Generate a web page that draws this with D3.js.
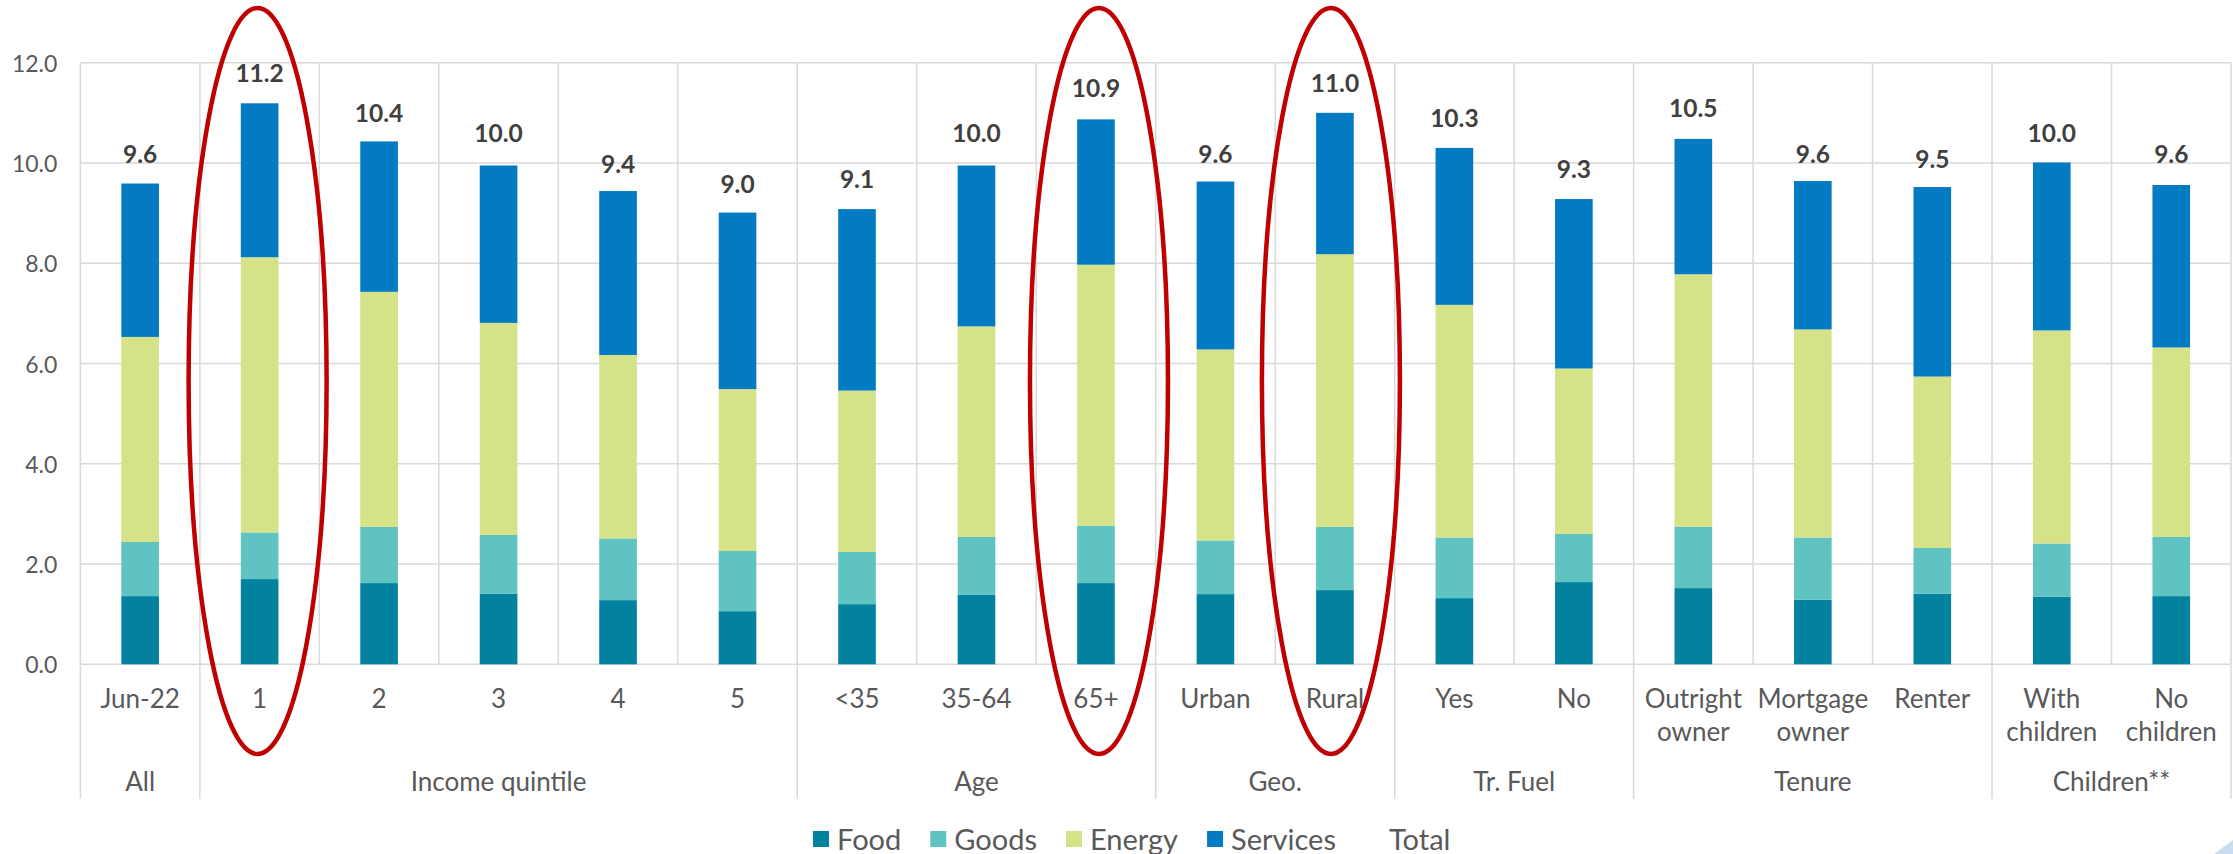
<!DOCTYPE html>
<html>
<head>
<meta charset="utf-8">
<script src="https://cdn.jsdelivr.net/npm/d3@7"></script>
<style>
  html, body { margin: 0; padding: 0; background: #ffffff; }
  svg { display: block; font-family: Lato, "Open Sans", sans-serif; }
</style>
</head>
<body>
<svg id="chart" width="2233" height="854"></svg>
<script>
// ---------------- data ----------------
const categories = ["Jun-22","1","2","3","4","5","<35","35-64","65+","Urban","Rural","Yes","No","Outright\nowner","Mortgage\nowner","Renter","With\nchildren","No\nchildren"];
const groupNames = ["All","Income quintile","Age","Geo.","Tr. Fuel","Tenure","Children**"];
const groupSizes = [1,5,3,2,2,3,2];
const seriesNames = ["Food","Goods","Energy","Services"];
const food     = [1.36,1.70,1.62,1.41,1.28,1.06,1.20,1.39,1.62,1.40,1.48,1.32,1.64,1.52,1.29,1.41,1.35,1.36];
const goods    = [1.08,0.93,1.12,1.17,1.23,1.20,1.04,1.15,1.14,1.07,1.26,1.21,0.96,1.22,1.24,0.91,1.06,1.18];
const energy   = [4.09,5.49,4.69,4.23,3.66,3.23,3.22,4.20,5.21,3.81,5.44,4.64,3.30,5.04,4.15,3.42,4.25,3.78];
const services = [3.06,3.07,3.00,3.14,3.27,3.52,3.62,3.21,2.90,3.35,2.82,3.13,3.38,2.70,2.96,3.78,3.35,3.24];
const total    = [9.6,11.2,10.4,10.0,9.4,9.0,9.1,10.0,10.9,9.6,11.0,10.3,9.3,10.5,9.6,9.5,10.0,9.6];
const yTicks   = [0,2,4,6,8,10,12];
const highlighted = ["1","65+","Rural"];
const highlightShift = [-2,3,-4];

// ---------------- style ----------------
const colors = { Food:"#02829F", Goods:"#5FC4C1", Energy:"#D5E288", Services:"#027BC2" };
const gridColor = "#D9D9D9";
const textColor = "#595959";

const svg = d3.select("#chart");
const pLeft = 80.4, pRight = 2231, pTop = 62.7, pBottom = 664.3;
const axisBottom = 799;

const x = d3.scaleBand().domain(categories).range([pLeft, pRight]).paddingInner(0).paddingOuter(0);
const y = d3.scaleLinear().domain([0, 12]).range([pBottom, pTop]);
const barW = x.bandwidth() * 0.315;

// table for stack
const table = categories.map((c, i) => ({ cat: c, Food: food[i], Goods: goods[i], Energy: energy[i], Services: services[i] }));
const stacked = d3.stack().keys(seriesNames)(table);

// horizontal gridlines
svg.append("g").selectAll("line").data(yTicks).join("line")
  .attr("x1", pLeft).attr("x2", pRight)
  .attr("y1", d => y(d)).attr("y2", d => y(d))
  .attr("stroke", gridColor).attr("stroke-width", 1.5);

// vertical gridlines (category boundaries) inside plot
const edges = categories.map(c => x(c)).concat([pRight]);
svg.append("g").selectAll("line").data(edges).join("line")
  .attr("x1", d => d).attr("x2", d => d)
  .attr("y1", pTop).attr("y2", pBottom)
  .attr("stroke", gridColor).attr("stroke-width", 1.5);

// group separators below axis
let acc = 0;
const groupBounds = [];
groupSizes.forEach((n, i) => { groupBounds.push({ name: groupNames[i], a: acc, b: acc + n }); acc += n; });
const endX = idx => idx === categories.length ? pRight : x(categories[idx]);
const sepX = [pLeft].concat(groupBounds.map(g => endX(g.b)));
svg.append("g").selectAll("line").data(sepX).join("line")
  .attr("x1", d => d).attr("x2", d => d)
  .attr("y1", pBottom).attr("y2", axisBottom)
  .attr("stroke", gridColor).attr("stroke-width", 1.5);

// bars
svg.append("g").selectAll("g").data(stacked).join("g")
  .attr("fill", d => colors[d.key])
  .selectAll("rect").data(d => d).join("rect")
  .attr("x", d => x(d.data.cat) + (x.bandwidth() - barW) / 2)
  .attr("width", barW)
  .attr("y", d => y(d[1]))
  .attr("height", d => y(d[0]) - y(d[1]));

// y axis labels
svg.append("g").selectAll("text").data(yTicks).join("text")
  .attr("x", pLeft - 23).attr("y", d => y(d))
  .attr("text-anchor", "end").attr("dominant-baseline", "central")
  .attr("fill", textColor).attr("font-size", 23)
  .text(d => d.toFixed(1));

// category labels
const catG = svg.append("g");
categories.forEach(c => {
  const lines = c.split("\n");
  const cx = x(c) + x.bandwidth() / 2;
  const t = catG.append("text")
    .attr("text-anchor", "middle")
    .attr("fill", textColor).attr("font-size", 26);
  lines.forEach((ln, k) => {
    t.append("tspan").attr("x", cx).attr("y", 708 + k * 33).text(ln);
  });
});

// group labels
svg.append("g").selectAll("text").data(groupBounds).join("text")
  .attr("x", d => (x(categories[d.a]) + endX(d.b)) / 2)
  .attr("y", 791)
  .attr("text-anchor", "middle")
  .attr("fill", textColor).attr("font-size", 26)
  .text(d => d.name);

// total labels
svg.append("g").selectAll("text").data(total).join("text")
  .attr("x", (d, i) => x(categories[i]) + x.bandwidth() / 2)
  .attr("y", d => y(d) - 30)
  .attr("text-anchor", "middle").attr("dominant-baseline", "central")
  .attr("fill", "#404040").attr("font-size", 24.5).attr("font-weight", "bold")
  .text(d => d.toFixed(1));

// red ellipses
svg.append("g").selectAll("ellipse").data(highlighted).join("ellipse")
  .attr("cx", (d, i) => x(d) + x.bandwidth() / 2 + highlightShift[i])
  .attr("cy", 381)
  .attr("rx", 69)
  .attr("ry", 373)
  .attr("fill", "none")
  .attr("stroke", "#C00000")
  .attr("stroke-width", 4.5);

// legend
const legendItems = seriesNames.concat(["Total"]);
const lg = svg.append("g");
let lx = 813;
legendItems.forEach(name => {
  if (name !== "Total") {
    lg.append("rect").attr("x", lx).attr("y", 831).attr("width", 16).attr("height", 16).attr("fill", colors[name]);
  }
  const t = lg.append("text").attr("x", lx + 24).attr("y", 838)
    .attr("dominant-baseline", "central")
    .attr("fill", textColor).attr("font-size", 29).text(name);
  lx += 24 + t.node().getComputedTextLength() + 29;
});

// decorative corner
svg.append("polygon")
  .attr("points", "2214,854 2233,840 2233,854")
  .attr("fill", "#C9DDF0");
</script>
</body>
</html>
